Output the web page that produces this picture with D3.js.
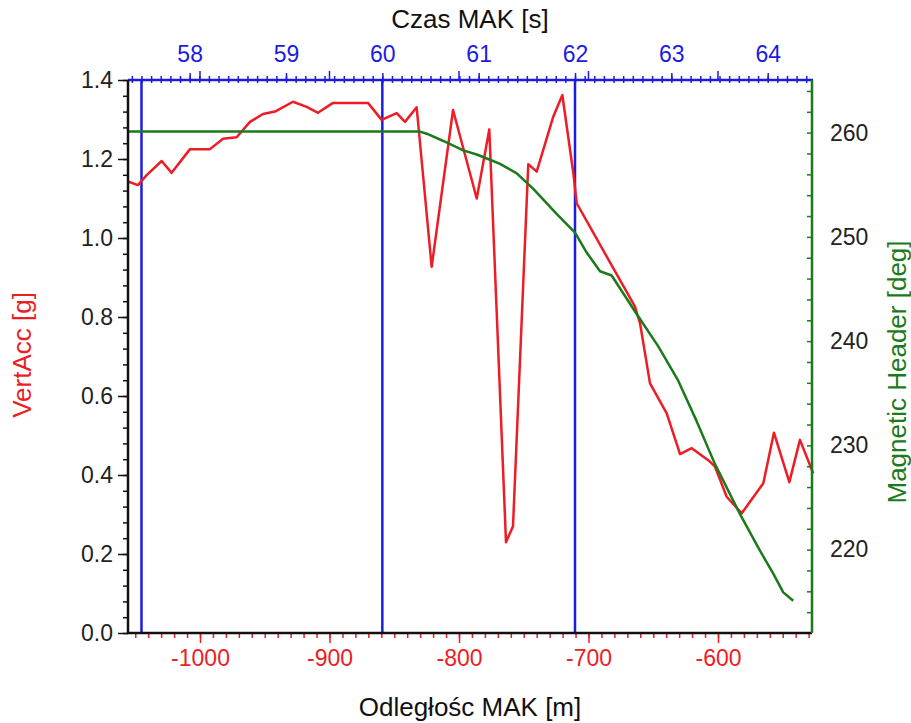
<!DOCTYPE html>
<html>
<head>
<meta charset="utf-8">
<script src="https://cdn.jsdelivr.net/npm/d3@7"></script>
<style>
    body { margin: 0; background: #fff; }
    text { font-family: "Liberation Sans", Arial, sans-serif; }
</style>
</head>
<body>
<svg id="chart" width="911" height="723"></svg>
<script>
// VertAcc [g] against distance [m]
const accDist = [-1055.6, -1047.9, -1041.2, -1029.6, -1021.9, -1007.7, -992.3, -982.2, -971.7, -961.4,
    -951.4, -942.1, -928.2, -917.6, -908.9, -897.3, -870.3, -859.7, -848.1, -841.7,
    -832.7, -821.1, -804.6, -786.3, -776.6, -763.7, -758.3, -746.5, -740.0, -727.2,
    -720.2, -711.7, -709.1, -664.1, -660.2, -652.5, -639.6, -629.3, -620.3, -606.2,
    -602.3, -593.3, -581.7, -565.0, -556.8, -544.9, -536.7, -526.4]
const accValue = [1.143, 1.134, 1.159, 1.195, 1.165, 1.225, 1.225, 1.251, 1.255, 1.294,
    1.314, 1.320, 1.345, 1.332, 1.317, 1.342, 1.342, 1.299, 1.316, 1.294,
    1.331, 0.927, 1.324, 1.100, 1.275, 0.230, 0.270, 1.187, 1.168, 1.307,
    1.362, 1.164, 1.088, 0.826, 0.784, 0.632, 0.556, 0.453, 0.468, 0.434,
    0.421, 0.345, 0.303, 0.379, 0.507, 0.382, 0.489, 0.404]

// Magnetic heading [deg] against distance [m]
const hdgDist = [-1055.6, -830.1, -824.9, -812.1, -796.7, -786.3, -776.1, -768.3, -755.4, -742.6,
    -724.6, -710.4, -701.4, -691.1, -682.1, -662.8, -646.1, -630.7, -616.4, -602.3,
    -583.0, -567.6, -557.3, -549.6, -541.9]
const hdgValue = [260.1, 260.1, 259.9, 259.2, 258.3, 257.9, 257.4, 257.0, 256.1, 254.6,
    252.2, 250.4, 248.5, 246.7, 246.3, 242.6, 239.5, 236.2, 232.3, 228.2,
    223.4, 219.9, 217.7, 215.9, 215.1]

// markers on the time axis [s]
const markerTimes = [57.5, 60, 62]

const distTicks = [-1000, -900, -800, -700, -600]
const timeTicks = [58, 59, 60, 61, 62, 63, 64]
const accTicks = [0, 0.2, 0.4, 0.6, 0.8, 1.0, 1.2, 1.4]
const hdgTicks = [220, 230, 240, 250, 260]

const svg = d3.select('#chart')
const pLeft = 128, pRight = 812, pTop = 80, pBottom = 633

const red = '#ee1c25'
const green = '#1b7a1b'
const blue = '#1c1ce0'
const tickFont = '23px'
const titleFont = '26px'

const xScale = d3.scaleLinear().domain([-1055.6, -527.4]).range([pLeft, pRight])
const tScale = d3.scaleLinear().domain([57.36, 64.46]).range([pLeft, pRight])
const yScale = d3.scaleLinear().domain([0, 1.4]).range([pBottom, pTop])
const hScale = d3.scaleLinear().domain([212, 265.05]).range([pBottom, pTop])

// blue marker lines
svg.selectAll('.marker')
    .data(markerTimes)
    .join('line')
    .attr('class', 'marker')
    .attr('x1', d => tScale(d)).attr('x2', d => tScale(d))
    .attr('y1', pTop).attr('y2', pBottom)
    .style('stroke', blue)
    .style('stroke-width', 2.5)

// series
const accLine = d3.line()
    .x(d => xScale(d[0]))
    .y(d => yScale(d[1]))
svg.append('path')
    .datum(d3.zip(accDist, accValue))
    .attr('d', accLine)
    .style('fill', 'none')
    .style('stroke', red)
    .style('stroke-width', 2.5)
    .style('stroke-linejoin', 'round')

const hdgLine = d3.line()
    .x(d => xScale(d[0]))
    .y(d => hScale(d[1]))
svg.append('path')
    .datum(d3.zip(hdgDist, hdgValue))
    .attr('d', hdgLine)
    .style('fill', 'none')
    .style('stroke', green)
    .style('stroke-width', 2.5)
    .style('stroke-linejoin', 'round')

// bottom axis (distance)
const xAxis = svg.append('g').attr('transform', `translate(0,${pBottom})`)
xAxis.append('g').call(d3.axisBottom(xScale).tickValues(d3.range(-1050, -527, 10)).tickSize(5).tickFormat(''))
xAxis.append('g').call(d3.axisBottom(xScale).tickValues(distTicks).tickSize(10).tickFormat(d => String(d)))
xAxis.selectAll('.domain').remove()
xAxis.selectAll('line').style('stroke', red).style('stroke-width', 1.5)
xAxis.selectAll('text').style('fill', red).style('font-size', tickFont).attr('y', 17)
svg.append('line')
    .attr('x1', pLeft - 1).attr('x2', pRight)
    .attr('y1', pBottom).attr('y2', pBottom)
    .style('stroke', '#111').style('stroke-width', 2.5)

// top axis (time)
const tAxis = svg.append('g').attr('transform', `translate(0,${pTop})`)
tAxis.append('g').call(d3.axisTop(tScale).tickValues(d3.range(57.4, 64.46, 0.1)).tickSize(4).tickFormat(''))
    .selectAll('line').attr('y1', 3)
tAxis.append('g').call(d3.axisTop(tScale).tickValues(timeTicks).tickSize(7).tickFormat(d => String(d)))
tAxis.selectAll('.domain').remove()
tAxis.selectAll('line').style('stroke', blue).style('stroke-width', 1.5)
tAxis.selectAll('text').style('fill', blue).style('font-size', tickFont).attr('y', -18)
svg.selectAll('.mirror')
    .data(distTicks)
    .join('line')
    .attr('class', 'mirror')
    .attr('x1', d => xScale(d)).attr('x2', d => xScale(d))
    .attr('y1', pTop).attr('y2', pTop - 9)
    .style('stroke', blue).style('stroke-width', 1.5)
svg.append('line')
    .attr('x1', pLeft).attr('x2', pRight + 1)
    .attr('y1', pTop).attr('y2', pTop)
    .style('stroke', blue).style('stroke-width', 2.5)

// left axis (VertAcc)
const yAxis = svg.append('g').attr('transform', `translate(${pLeft},0)`)
yAxis.append('g').call(d3.axisLeft(yScale).tickValues(d3.range(0, 1.41, 0.04)).tickSize(5).tickFormat(''))
yAxis.append('g').call(d3.axisLeft(yScale).tickValues(accTicks).tickSize(10).tickFormat(d3.format('.1f')))
yAxis.selectAll('.domain').remove()
yAxis.selectAll('line').style('stroke', '#111').style('stroke-width', 1.5)
yAxis.selectAll('text').style('fill', '#222').style('font-size', tickFont).attr('x', -15)
svg.append('line')
    .attr('x1', pLeft).attr('x2', pLeft)
    .attr('y1', pTop).attr('y2', pBottom)
    .style('stroke', '#111').style('stroke-width', 2.5)

// right axis (heading), ticks pointing inwards
const hAxis = svg.append('g').attr('transform', `translate(${pRight},0)`)
hAxis.append('g').call(d3.axisLeft(hScale).tickValues(d3.range(214, 265, 2)).tickSize(5).tickFormat(''))
hAxis.append('g').call(d3.axisRight(hScale).tickValues(hdgTicks).tickSize(0).tickFormat(d3.format('d')))
hAxis.selectAll('.domain').remove()
hAxis.selectAll('line').style('stroke', green).style('stroke-width', 1.5)
hAxis.selectAll('text').style('fill', '#222').style('font-size', tickFont).attr('x', 18)
svg.append('line')
    .attr('x1', pRight).attr('x2', pRight)
    .attr('y1', pTop).attr('y2', pBottom)
    .style('stroke', green).style('stroke-width', 2.5)

// titles
svg.append('text')
    .text('Czas MAK [s]')
    .attr('x', 470).attr('y', 28)
    .attr('text-anchor', 'middle')
    .style('font-size', titleFont).style('fill', '#111')
svg.append('text')
    .text('Odległośc MAK [m]')
    .attr('x', 470).attr('y', 716)
    .attr('text-anchor', 'middle')
    .style('font-size', titleFont).style('fill', '#111')
svg.append('text')
    .text('VertAcc [g]')
    .attr('transform', 'translate(31,355) rotate(-90)')
    .attr('text-anchor', 'middle')
    .style('font-size', titleFont).style('fill', red)
svg.append('text')
    .text('Magnetic Header [deg]')
    .attr('transform', 'translate(906,372) rotate(-90)')
    .attr('text-anchor', 'middle')
    .style('font-size', titleFont).style('fill', green)
</script>
</body>
</html>
